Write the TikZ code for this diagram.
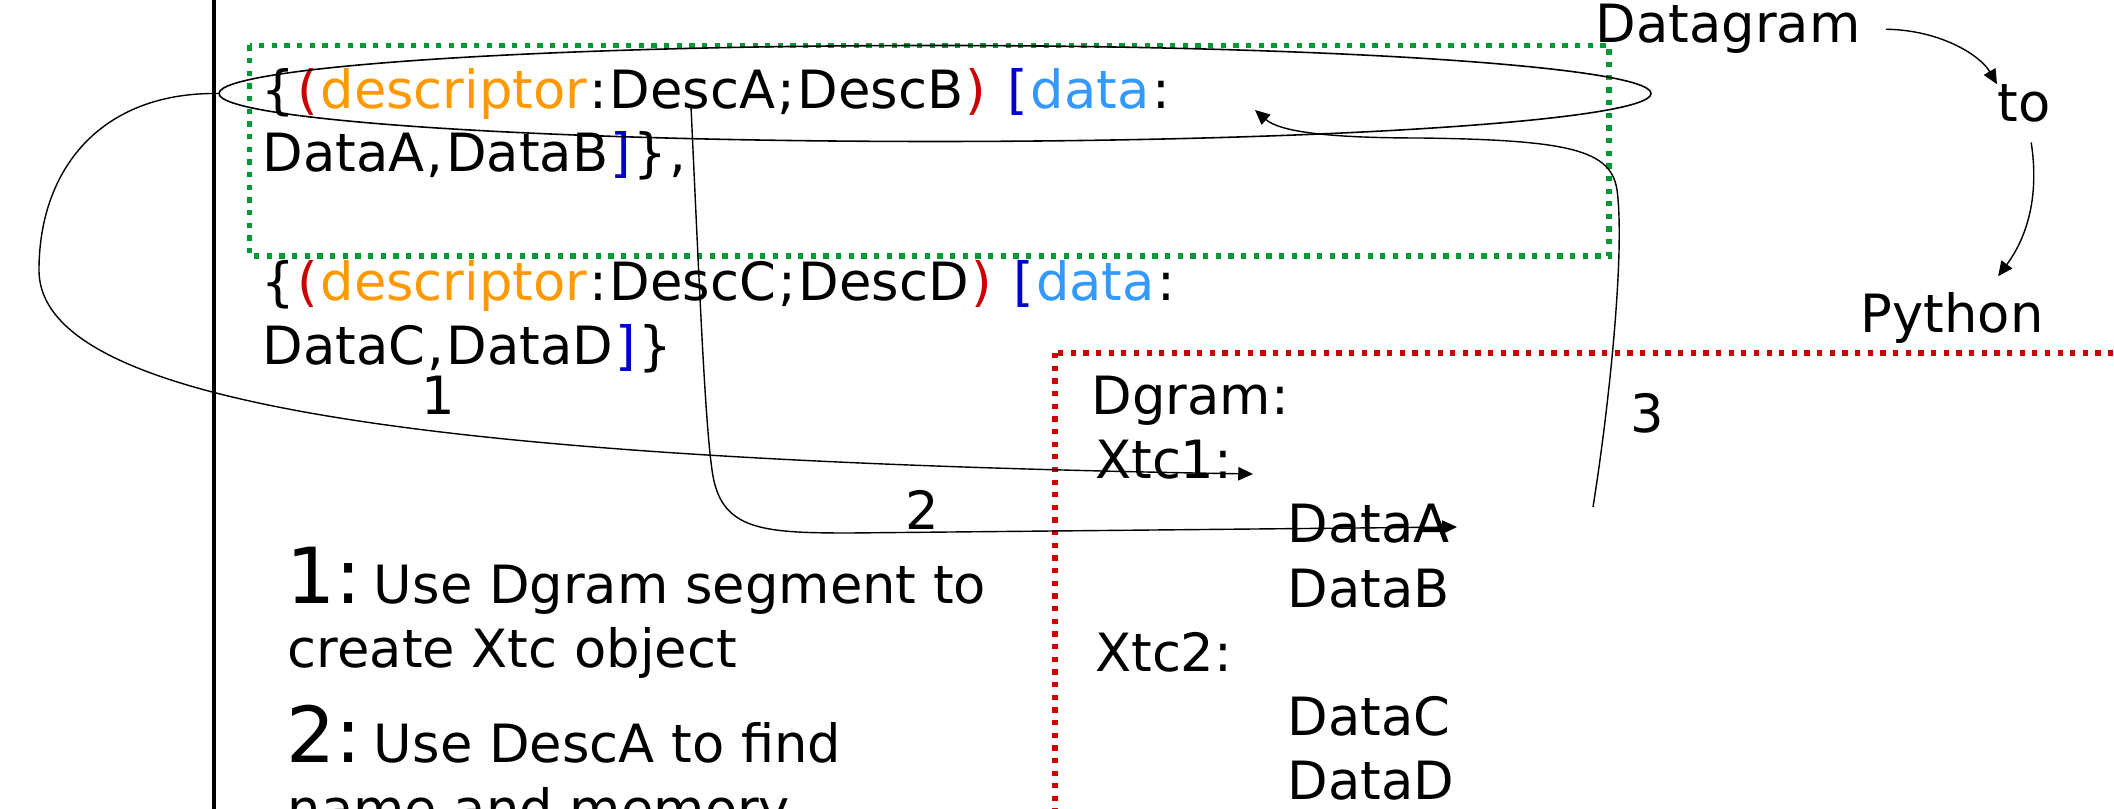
\documentclass[tikz,border=0pt]{standalone}
\usepackage{fontspec}
\setmainfont{DejaVu Sans}
\usetikzlibrary{arrows.meta,shapes.geometric}

\definecolor{parred}{HTML}{CC0000}
\definecolor{descorange}{HTML}{FF9900}
\definecolor{brblue}{HTML}{0000CC}
\definecolor{datablue}{HTML}{3399FF}
\definecolor{boxgreen}{HTML}{009933}

\newcommand\stepnum[1]{{\fontsize{22pt}{26pt}\selectfont #1}}
\newcommand\pw[1]{\kern.045em#1\kern.045em}

\begin{document}
\begin{tikzpicture}[
    txt/.style={anchor=base west, inner sep=0pt, font=\fontsize{15pt}{18pt}\selectfont},
    num/.style={anchor=base, inner sep=0pt, font=\fontsize{15pt}{18pt}\selectfont},
    arr/.style={-{Triangle[length=4.2pt,width=3.8pt]}, line width=0.4pt},
    dotbox/.style={line width=1.6pt, dash pattern=on 1.5pt off 2.1pt}
]

\useasboundingbox (0,0) rectangle (21.14,-8.09);
\clip (0,0) rectangle (21.14,-8.09);

\draw[line width=1.15pt] (2.14,0.1) -- (2.14,-8.2);

\draw[dotbox, boxgreen] (2.495,-0.455) rectangle (16.09,-2.56);
\draw[dotbox, parred] (10.55,-3.53) rectangle (21.5,-8.5);

\node[txt] (segab) at (2.61,-1.09) {\{\textcolor{parred}{\pw(}\textcolor{descorange}{descriptor}\pw:DescA\pw;DescB\textcolor{parred}{\pw)} \textcolor{brblue}{\pw[}\textcolor{datablue}{data}\pw:};
\node[txt] (dataab) at (2.62,-1.72) {DataA\pw,DataB\textcolor{brblue}{\pw]}\}\pw,};
\node[txt] (segcd) at (2.61,-3.01) {\{\textcolor{parred}{\pw(}\textcolor{descorange}{descriptor}\pw:DescC\pw;DescD\textcolor{parred}{\pw)} \textcolor{brblue}{\pw[}\textcolor{datablue}{data}\pw:};
\node[txt] (datacd) at (2.62,-3.65) {DataC\pw,DataD\textcolor{brblue}{\pw]}\}};

\node[txt] (dgm) at (15.95,-0.43) {Datagram};
\node[txt] (to) at (19.97,-1.22) {to};
\node[txt] (py) at (18.60,-3.33) {Python};

\node[txt] (dgram) at (10.91,-4.15) {Dgram:};
\node[txt] (xtc1) at (10.945,-4.79) {Xtc1:};
\node[txt] (dataa) at (12.87,-5.43) {DataA};
\node[txt] (datab) at (12.87,-6.07) {DataB};
\node[txt] (xtc2) at (10.945,-6.71) {Xtc2:};
\node[txt] (datac) at (12.87,-7.35) {DataC};
\node[txt] (datad) at (12.87,-7.99) {DataD};

\node[txt] (step1) at (2.86,-6.03) {\stepnum{1:}\kern0.12cm Use Dgram segment to};
\node[txt] (step1b) at (2.87,-6.68) {create Xtc object};
\node[txt] (step2) at (2.86,-7.62) {\stepnum{2:}\kern0.12cm Use DescA to find};
\node[txt] (step2b) at (2.87,-8.27) {name and memory};

\node[draw, ellipse, line width=0.45pt, minimum width=14.32cm, minimum height=0.96cm, inner sep=0pt] (ell) at (9.35,-0.935) {};

\coordinate (descpt) at (6.91,-1.07);
\coordinate (tip1) at (12.53,-4.74);
\coordinate (tip2) at (14.57,-5.27);
\coordinate (start3) at (15.93,-5.07);
\coordinate (tip3) at (12.55,-1.10);

\draw[arr] (ell.west) .. controls (1.00,-0.92) and (0.39,-1.70) .. (0.39,-2.70)
    .. controls (0.39,-4.00) and (4.00,-4.60) .. (tip1);
\draw[arr] (descpt) .. controls (7.00,-3.00) and (7.05,-4.20) .. (7.12,-4.70)
    .. controls (7.20,-5.30) and (7.60,-5.33) .. (8.50,-5.33) -- (tip2);
\draw[arr] (start3) .. controls (16.10,-4.00) and (16.25,-2.50) .. (16.17,-1.90)
    .. controls (16.11,-1.50) and (15.70,-1.40) .. (14.20,-1.38)
    .. controls (13.30,-1.38) and (12.80,-1.32) .. (tip3);

\draw[arr] ([xshift=0.25cm]dgm.east) .. controls (19.40,-0.30) and (19.80,-0.55) .. (to.north west);
\draw[arr] ([xshift=0.07cm,yshift=-0.19cm]to.south) .. controls (20.40,-2.00) and (20.25,-2.40) .. ([xshift=0.46cm,yshift=0.16cm]py.north);

\node[num] (lbl1) at (4.38,-4.15) {1};
\node[num] (lbl2) at (9.22,-5.30) {2};
\node[num] (lbl3) at (16.47,-4.33) {3};

\end{tikzpicture}
\end{document}
